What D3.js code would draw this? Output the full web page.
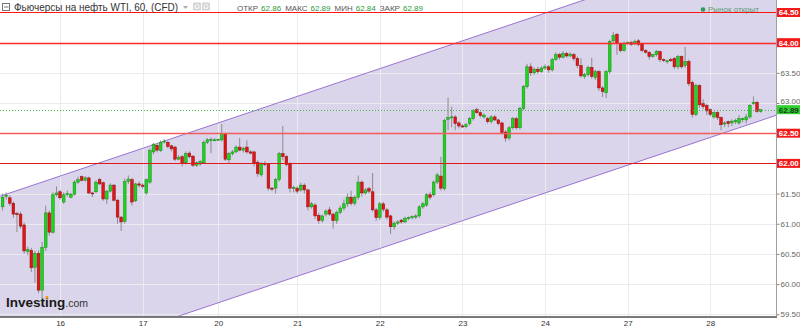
<!DOCTYPE html>
<html>
<head>
<meta charset="utf-8">
<script src="https://cdn.jsdelivr.net/npm/d3@7"></script>
<style>
html,body{margin:0;padding:0;background:#fff;}
svg{display:block;font-family:"Liberation Sans",Arial,sans-serif;}
</style>
</head>
<body>
<script>
// WTI futures, hourly candles
var dayLabels = ["16","17","20","21","22","23","24","27","28"];
var dayIndex  = [16,39,60,82,105,128,151,174,197];

var opens = [
 61.28,61.46,61.43,61.34,61.17,61.16,60.98,60.54,60.56,60.28,
 60.51,59.90,60.61,61.18,60.86,61.48,61.53,61.36,61.49,61.44,
 61.49,61.69,61.78,61.72,61.76,61.51,61.53,61.73,61.68,61.41,
 61.54,61.64,61.39,61.11,61.04,61.70,61.73,61.38,61.66,61.64,
 61.51,61.69,62.19,62.30,62.21,62.36,62.35,62.29,62.27,62.07,
 62.11,62.01,62.17,62.12,61.97,61.99,62.01,62.35,62.39,62.39,
 62.39,62.39,62.49,62.06,62.16,62.19,62.27,62.22,62.27,62.19,
 62.19,62.02,61.81,62.00,61.98,61.59,61.59,61.73,62.16,62.11,
 61.99,61.59,61.59,61.56,61.64,61.56,61.28,61.31,61.14,61.05,
 61.16,61.23,61.16,61.05,61.19,61.26,61.33,61.44,61.34,61.44,
 61.69,61.51,61.58,61.53,61.23,61.10,61.33,61.23,61.13,60.95,
 61.01,61.06,61.03,61.09,61.10,61.11,61.13,61.28,61.31,61.48,
 61.48,61.69,61.79,61.58,62.73,62.76,62.77,62.67,62.62,62.61,
 62.66,62.74,62.89,62.84,62.77,62.74,62.69,62.77,62.72,62.67,
 62.52,62.42,62.59,62.74,62.59,62.91,63.27,63.60,63.50,63.56,
 63.52,63.58,63.60,63.55,63.72,63.80,63.76,63.82,63.78,63.80,
 63.74,63.62,63.44,63.47,63.59,63.42,63.52,63.25,63.17,63.52,
 64.03,64.14,63.97,63.87,63.99,64.00,63.98,64.03,63.98,63.87,
 63.84,63.77,63.80,63.85,63.72,63.70,63.72,63.74,63.60,63.77,
 63.62,63.69,63.34,62.81,63.29,62.99,62.96,62.89,62.77,62.84,
 62.76,62.66,62.69,62.67,62.69,62.67,62.74,62.72,62.77,62.99,
 63.01,62.86
];
var highs = [
 61.50,61.52,61.47,61.37,61.20,61.20,61.02,60.62,60.60,60.55,
 60.56,60.70,61.30,61.22,61.52,61.62,61.56,61.52,61.55,61.51,
 61.72,61.78,61.80,61.79,61.78,61.53,61.72,61.76,61.70,61.56,
 61.67,61.66,61.41,61.13,61.75,61.80,61.76,61.68,61.70,61.67,
 61.75,62.25,62.34,62.33,62.38,62.40,62.37,62.31,62.29,62.14,
 62.14,62.20,62.20,62.14,62.03,62.06,62.38,62.42,62.43,62.42,
 62.41,62.65,62.51,62.19,62.22,62.30,62.42,62.28,62.38,62.22,
 62.21,62.05,62.02,62.04,62.00,61.61,61.76,62.19,62.62,62.14,
 62.02,61.63,61.62,61.68,61.67,61.58,61.36,61.34,61.18,61.15,
 61.24,61.28,61.18,61.22,61.30,61.40,61.50,61.55,61.47,61.80,
 61.72,61.59,61.61,61.84,61.26,61.36,61.36,61.26,61.15,61.04,
 61.06,61.08,61.12,61.12,61.14,61.16,61.31,61.36,61.51,61.53,
 61.72,61.84,62.11,62.74,63.09,62.94,62.80,62.70,62.65,62.67,
 62.77,62.90,62.92,62.86,62.83,62.77,62.80,62.80,62.74,62.69,
 62.55,62.62,62.77,62.77,62.94,63.30,63.65,63.66,63.59,63.60,
 63.61,63.64,63.63,63.75,63.84,63.83,63.86,63.85,63.84,63.83,
 63.77,63.74,63.50,63.62,63.75,63.55,63.55,63.28,63.55,64.05,
 64.18,64.16,64.00,64.02,64.02,64.03,64.05,64.06,64.00,63.89,
 63.86,63.82,63.88,63.87,63.74,63.72,63.75,63.76,63.80,63.79,
 63.93,63.72,63.37,63.32,63.31,63.06,62.99,62.91,62.86,62.86,
 62.78,62.70,62.71,62.73,62.74,62.80,62.76,62.82,62.98,63.11,
 63.04,62.89
];
var lows = [
 61.22,61.40,61.30,61.10,60.86,60.92,60.50,60.48,60.20,60.02,
 59.85,59.73,60.55,60.80,60.84,61.45,61.40,61.33,61.45,61.42,
 61.47,61.66,61.70,61.70,61.49,61.44,61.50,61.64,61.38,61.33,
 61.52,61.37,61.00,60.88,61.00,61.66,61.30,61.36,61.60,61.58,
 61.48,61.66,62.15,62.18,62.19,62.33,62.25,62.20,62.04,62.05,
 61.95,61.98,62.08,61.94,61.94,61.96,61.99,62.32,62.17,62.37,
 62.37,62.36,62.04,62.00,62.13,62.17,62.20,62.18,62.16,62.15,
 61.95,61.78,61.78,61.95,61.55,61.54,61.50,61.70,62.05,61.95,
 61.52,61.52,61.50,61.53,61.50,61.22,61.25,61.08,61.00,61.02,
 61.12,61.13,60.92,61.00,61.16,61.22,61.28,61.30,61.30,61.40,
 61.45,61.48,61.50,61.20,61.05,61.06,61.20,61.07,60.83,60.90,
 60.98,61.00,61.01,61.06,61.07,61.08,61.10,61.25,61.28,61.40,
 61.45,61.66,61.55,61.55,62.55,62.60,62.55,62.58,62.59,62.58,
 62.63,62.71,62.82,62.76,62.74,62.66,62.66,62.70,62.63,62.48,
 62.36,62.38,62.56,62.56,62.56,62.88,63.24,63.45,63.47,63.48,
 63.50,63.55,63.50,63.52,63.70,63.72,63.74,63.75,63.76,63.70,
 63.58,63.42,63.40,63.44,63.40,63.38,63.20,63.10,63.08,63.48,
 64.00,63.80,63.84,63.85,63.97,63.95,63.96,63.94,63.84,63.82,
 63.72,63.75,63.77,63.68,63.68,63.65,63.68,63.56,63.56,63.57,
 63.58,63.28,62.76,62.78,62.92,62.90,62.80,62.78,62.74,62.72,
 62.55,62.60,62.60,62.62,62.65,62.64,62.68,62.66,62.74,62.97,
 62.84,62.84
];
var closes = [
 61.44,61.47,61.34,61.16,61.15,60.96,60.55,60.57,60.27,60.51,
 59.90,60.61,61.18,60.86,61.48,61.51,61.43,61.48,61.50,61.49,
 61.69,61.73,61.72,61.76,61.51,61.50,61.69,61.66,61.41,61.54,
 61.64,61.39,61.11,61.03,61.70,61.74,61.36,61.66,61.64,61.62,
 61.73,62.21,62.31,62.22,62.35,62.37,62.28,62.24,62.07,62.10,
 62.00,62.16,62.11,61.97,62.01,62.03,62.35,62.39,62.40,62.39,
 62.40,62.49,62.07,62.16,62.19,62.27,62.22,62.25,62.19,62.17,
 62.00,61.83,61.99,61.98,61.59,61.58,61.73,62.16,62.11,61.98,
 61.59,61.60,61.54,61.64,61.56,61.28,61.33,61.13,61.05,61.13,
 61.21,61.16,61.05,61.19,61.26,61.33,61.44,61.34,61.44,61.69,
 61.51,61.56,61.54,61.23,61.10,61.33,61.24,61.11,60.95,61.01,
 61.03,61.03,61.09,61.10,61.12,61.13,61.28,61.33,61.48,61.44,
 61.69,61.81,61.59,62.71,62.76,62.77,62.66,62.62,62.61,62.64,
 62.74,62.87,62.84,62.79,62.80,62.69,62.77,62.72,62.66,62.51,
 62.42,62.59,62.74,62.59,62.91,63.27,63.60,63.50,63.56,63.52,
 63.58,63.60,63.55,63.72,63.80,63.76,63.82,63.78,63.81,63.74,
 63.62,63.45,63.47,63.59,63.44,63.52,63.25,63.19,63.52,64.02,
 64.12,63.99,63.87,63.99,64.00,63.97,64.02,63.97,63.87,63.84,
 63.77,63.80,63.85,63.72,63.71,63.70,63.70,63.60,63.77,63.60,
 63.69,63.32,62.81,63.29,62.97,62.94,62.87,62.81,62.84,62.76,
 62.64,62.67,62.66,62.70,62.71,62.74,62.74,62.77,62.96,63.01,
 62.86,62.89
];

var priceTicks = [59.5,60,60.5,61,61.5,62,62.5,63,63.5,64,64.5];
var levels = [64.5,64.0,62.5,62.0];
var levelColors = ["#ff1414","#ff2a2a","#f25c5c","#e01818"];
var levelWidths = [1,1.4,1.6,1];
var lastPrice = 62.89;
// trend channel, two anchor points each: [candle index, price]
var channelUpper = [[0,61.47],[160,64.67]];
var channelLower = [[50,59.49],[211,62.71]];
var headerNames  = ["ОТКР","МАКС","МИН","ЗАКР"];
var headerValues = ["62.86","62.89","62.84","62.89"];

// sizes
var W = 800, H = 328;
var plotR = 776, plotB = 317;

var svg = d3.select("body").append("svg")
    .attr("width",W).attr("height",H);

var x = d3.scaleLinear().domain([0,211]).range([2.6, 760.6]);
var y = d3.scaleLinear().domain([59.455,64.707]).range([plotB,0]);

svg.append("defs").append("clipPath").attr("id","plotclip")
  .append("rect").attr("x",0).attr("y",0).attr("width",plotR).attr("height",plotB);

var plot = svg.append("g").attr("clip-path","url(#plotclip)");

//channel fill
function along(pts,i){
    var a = pts[0], b = pts[1];
    return a[1] + (b[1]-a[1])*(i-a[0])/(b[0]-a[0]);
}
var iL = x.invert(-5), iR = x.invert(plotR+5);
var poly = [[iL,along(channelUpper,iL)],[iR,along(channelUpper,iR)],
            [iR,along(channelLower,iR)],[iL,along(channelLower,iL)]];
plot.append("path")
    .attr("d","M"+poly.map(function(p){return x(p[0])+","+y(p[1]);}).join("L")+"Z")
    .attr("fill","#dad5ea");

// grid
plot.selectAll("line.hg").data(priceTicks).enter().append("line")
    .attr("class","hg")
    .attr("x1",0).attr("x2",plotR)
    .attr("y1",function(d){return Math.round(y(d))+0.5;})
    .attr("y2",function(d){return Math.round(y(d))+0.5;})
    .attr("stroke","#ebebeb").attr("stroke-width",1);
plot.selectAll("line.vg").data(dayIndex).enter().append("line")
    .attr("class","vg")
    .attr("y1",0).attr("y2",plotB)
    .attr("x1",function(d){return Math.round(x(d))+0.5;})
    .attr("x2",function(d){return Math.round(x(d))+0.5;})
    .attr("stroke","#ebebeb").attr("stroke-width",1);

// channel borders
[channelUpper,channelLower].forEach(function(pts){
    plot.append("line")
        .attr("x1",x(iL)).attr("y1",y(along(pts,iL)))
        .attr("x2",x(iR)).attr("y2",y(along(pts,iR)))
        .attr("stroke","#9b72d2").attr("stroke-width",1);
});

// horizontal levels
levels.forEach(function(v,k){
    svg.append("line")
        .attr("x1",0).attr("x2",plotR)
        .attr("y1",Math.round(y(v))+0.5).attr("y2",Math.round(y(v))+0.5)
        .attr("stroke",levelColors[k]).attr("stroke-width",levelWidths[k]);
});
// last price
svg.append("line")
    .attr("x1",0).attr("x2",plotR)
    .attr("y1",Math.round(y(lastPrice))+0.5).attr("y2",Math.round(y(lastPrice))+0.5)
    .attr("stroke","#3fb83f").attr("stroke-width",1).attr("stroke-dasharray","1,2");

// candles
var candles = d3.range(closes.length).map(function(i){
    return {i:i,o:opens[i],h:highs[i],l:lows[i],c:closes[i]};
});
var cg = plot.append("g");
cg.selectAll("line.wick").data(candles).enter().append("line")
    .attr("class","wick")
    .attr("x1",function(d){return x(d.i);}).attr("x2",function(d){return x(d.i);})
    .attr("y1",function(d){return y(d.h);}).attr("y2",function(d){return y(d.l);})
    .attr("stroke","#8c8c8c").attr("stroke-width",1);
cg.selectAll("rect.body").data(candles).enter().append("rect")
    .attr("class","body")
    .attr("x",function(d){return x(d.i)-1.35;})
    .attr("width",2.7)
    .attr("y",function(d){return y(Math.max(d.o,d.c));})
    .attr("height",function(d){return Math.max(1,Math.abs(y(d.o)-y(d.c)));})
    .attr("fill",function(d){return d.c>=d.o?"#1ed41e":"#e61414";})
    .attr("stroke",function(d){return d.c>=d.o?"#138a13":"#8a1010";})
    .attr("stroke-width",0.5);

// axes (values that carry a coloured box are left to the box)
var boxed = levels.concat([lastPrice]);
var axisTicks = priceTicks.filter(function(v){return boxed.indexOf(v)<0;});
var yAxis = d3.axisRight(y).tickValues(axisTicks).tickSize(3).tickPadding(1)
    .tickFormat(d3.format(".2f"));
var ya = svg.append("g").attr("transform","translate("+(plotR+0.5)+",0)").call(yAxis);
ya.select(".domain").remove();
ya.selectAll("line").attr("stroke","#888");
ya.selectAll("text").attr("fill","#666").style("font-size","8px")
    .style("font-family","'Liberation Sans',Arial,sans-serif")
    .attr("y",function(d){return Math.abs(d-lastPrice)<0.2?-2:0;});
svg.append("line").attr("x1",plotR+0.5).attr("x2",plotR+0.5).attr("y1",0).attr("y2",plotB)
    .attr("stroke","#a0a0a0");

var xAxis = d3.axisBottom(x).tickValues(dayIndex).tickSize(0).tickPadding(3)
    .tickFormat(function(d,k){return dayLabels[k];});
var xa = svg.append("g").attr("transform","translate(0,"+plotB+")").call(xAxis);
xa.select(".domain").remove();
xa.selectAll("text").attr("fill","#333").style("font-size","8px")
    .style("font-family","'Liberation Sans',Arial,sans-serif");
svg.append("line").attr("x1",0).attr("x2",plotR+1).attr("y1",plotB).attr("y2",plotB)
    .attr("stroke","#7a7a7a").attr("stroke-width",2);

// price boxes on the right
function priceBox(v,fill,txt){
    var g = svg.append("g").attr("transform","translate("+(plotR+1)+","+y(v)+")");
    g.append("rect").attr("x",0).attr("y",-4.5).attr("width",W-plotR).attr("height",9)
        .attr("fill",fill);
    g.append("text").attr("x",11.8).attr("y",3).attr("text-anchor","middle")
        .attr("fill",txt).style("font-size","8px").style("font-weight","bold")
        .text(d3.format(".2f")(v));
}
levels.forEach(function(v){priceBox(v,"#f21a1a","#fff");});
priceBox(lastPrice,"#2fd02f","#1a3a1a");

// header
var hd = svg.append("g");
hd.append("rect").attr("x",2.5).attr("y",3.5).attr("width",7).attr("height",7)
    .attr("fill","none").attr("stroke","#777");
hd.append("line").attr("x1",4).attr("x2",8.5).attr("y1",7).attr("y2",7).attr("stroke","#777");
hd.append("text").attr("x",14).attr("y",11).attr("fill","#333")
    .style("font-size","11px").attr("textLength",164).attr("lengthAdjust","spacingAndGlyphs")
    .text("Фьючерсы на нефть WTI, 60, (CFD)");
hd.append("path").attr("d","M183,6 L188,6 L185.5,9 Z").attr("fill","#aaa");
[193,202].forEach(function(px){
    hd.append("rect").attr("x",px).attr("y",2.5).attr("width",8).attr("height",8)
        .attr("rx",1).attr("fill","#d4d4d4");
    hd.append("circle").attr("cx",px+4).attr("cy",6.5).attr("r",2)
        .attr("fill","none").attr("stroke","#f4f4f4").attr("stroke-width",1.2);
});
var ht = hd.append("text").attr("x",237).attr("y",11).style("font-size","8px");
headerNames.forEach(function(n,k){
    ht.append("tspan").attr("fill","#555").attr("dx",k?4:0).text(n);
    ht.append("tspan").attr("fill","#2b9a3a").attr("dx",3).text(headerValues[k]);
});

// market status
svg.append("circle").attr("cx",703).attr("cy",9.5).attr("r",2.3).attr("fill","#2f9a55");
svg.append("text").attr("x",708).attr("y",12).attr("fill","#5f9a76")
    .style("font-size","8px").text("Рынок открыт");

// logo
var logo = svg.append("text").attr("x",6).attr("y",307);
logo.append("tspan").attr("fill","#1a1a1a").style("font-size","13.5px")
    .style("font-weight","bold").text("Investing");
logo.append("tspan").attr("fill","#333").style("font-size","10.5px").text(".com");
var dot = logo.node().getExtentOfChar(6);
svg.append("rect").attr("x",dot.x+dot.width/2-1.3).attr("y",296).attr("width",2.6).attr("height",2.6)
    .attr("fill","#f39c12");
</script>
</body>
</html>
